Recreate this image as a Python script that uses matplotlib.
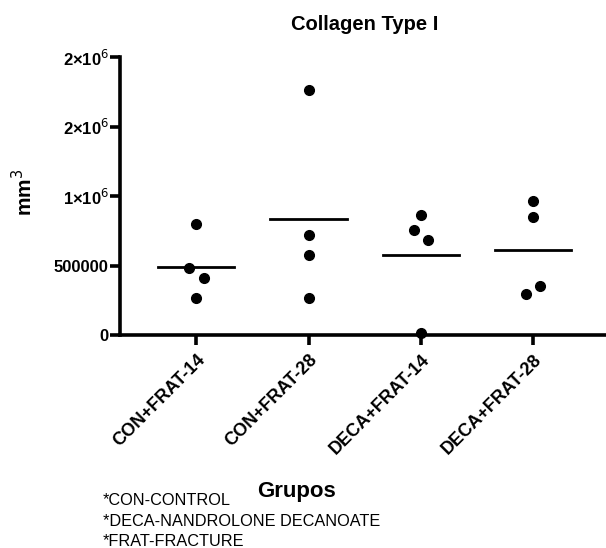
import numpy as np
from matplotlib import pyplot as plt

plt.rcParams['font.family'] = ['Liberation Sans', 'DejaVu Sans']

# -------------------------------------------------
# Data
# -------------------------------------------------
groups = ["CON+FRAT-14", "CON+FRAT-28", "DECA+FRAT-14", "DECA+FRAT-28"]
con_frat_14 = [802000, 483000, 411000, 266000]
con_frat_28 = [1763000, 720000, 575000, 266000]
deca_frat_14 = [862000, 756000, 681000, 12000]
deca_frat_28 = [962000, 850000, 297000, 350000]
series = [con_frat_14, con_frat_28, deca_frat_14, deca_frat_28]
# small horizontal spread so overlapping dots stay visible
spread = [[0, -0.065, 0.065, 0], [0, 0, 0, 0], [0, -0.065, 0.065, 0], [0, 0, -0.065, 0.065]]

y_ticks = [0, 500000, 1000000, 1500000, 2000000]
y_tick_labels = ["0", "500000", r"1×10$^{6}$", r"2×10$^{6}$", r"2×10$^{6}$"]
notes = ["*CON-CONTROL", "*DECA-NANDROLONE DECANOATE", "*FRAT-FRACTURE"]

# -------------------------------------------------
# Plot
# -------------------------------------------------
fig = plt.figure(figsize=(6.06, 5.48), dpi=100)
ax = fig.add_axes([120 / 606, 1 - 335 / 548, 1 - 120 / 606, (335 - 57) / 548])

for i, vals in enumerate(series):
    xs = i + np.array(spread[i])
    ax.plot(xs, vals, "o", color="black", markersize=7, clip_on=False, zorder=3)
    m = np.mean(vals)
    ax.plot([i - 0.34, i + 0.34], [m, m], color="black", linewidth=2)

ax.set_xlim(-0.68, 3.65)
ax.set_ylim(0, 2000000)
ax.set_yticks(y_ticks)
ax.set_yticklabels(y_tick_labels, fontsize=12, fontweight="bold")
ax.set_xticks(range(len(groups)))
ax.set_xticklabels(groups, rotation=45, ha="right", va="top", rotation_mode="anchor",
                   fontsize=13, fontweight="bold")

for side in ["top", "right"]:
    ax.spines[side].set_visible(False)
for side in ["left", "bottom"]:
    ax.spines[side].set_linewidth(2.6)
ax.tick_params(axis="y", width=2.6, length=7, direction="out", pad=1)
ax.tick_params(axis="x", width=2.6, length=7, direction="out", pad=5)

fig.text(365 / 606, 1 - 25 / 548, "Collagen Type I", ha="center", va="center",
         fontsize=14.5, fontweight="bold")
fig.text(24 / 606, 1 - 192 / 548, "mm$^3$", rotation=90, ha="center", va="center",
         fontsize=15, fontweight="bold")
fig.text(296 / 606, 1 - 492 / 548, "Grupos", ha="center", va="center",
         fontsize=16, fontweight="bold")
for k, note in enumerate(notes):
    fig.text(103 / 606, 1 - (505 + 20.5 * k) / 548, note, ha="left", va="baseline",
             fontsize=11.7)

fig.savefig("out.png", dpi=100)
